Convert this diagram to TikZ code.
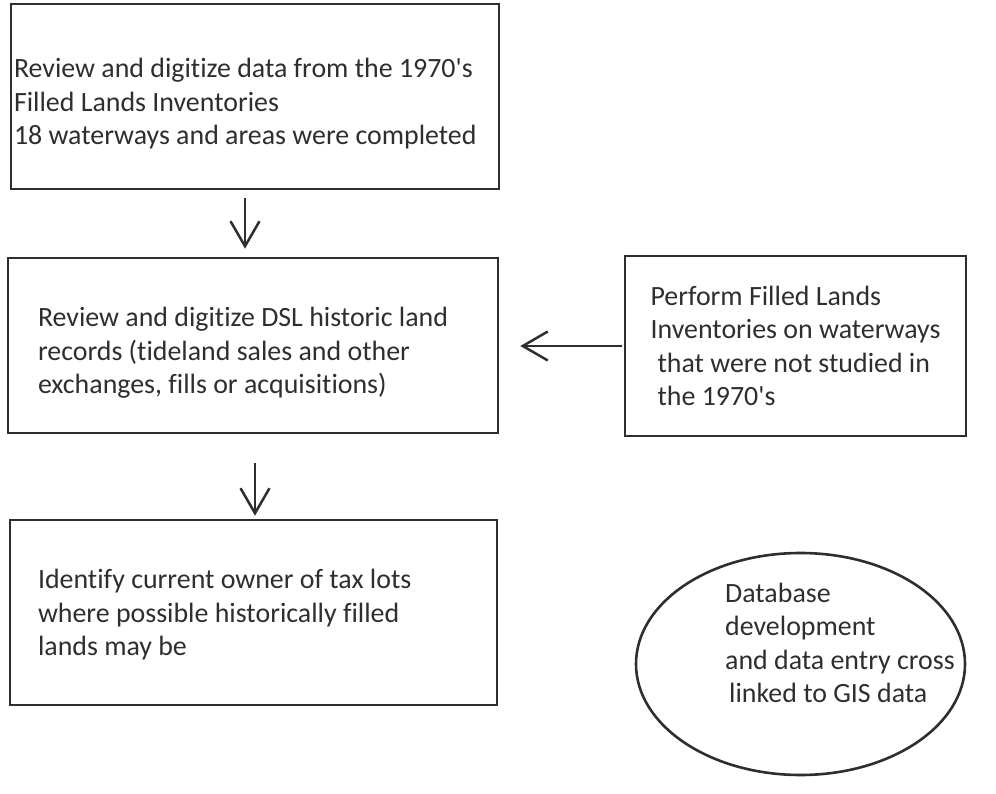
\documentclass[tikz,border=0pt]{standalone}
\usepackage{fontspec}
\setmainfont{Carlito}[Ligatures=NoCommon]
\usetikzlibrary{arrows.meta,shapes.geometric}
\definecolor{ink}{HTML}{2E2E2E}
\tikzset{
  stepbox/.style={draw=ink,line width=2.6pt,rectangle,inner ysep=0pt,align=flush left,text=ink},
  flow/.style={draw=ink,line width=2.5pt,-{Straight Barb[length=25pt,width=29pt,line width=2.5pt]}},
}
\begin{document}
\begin{tikzpicture}[x=1pt,y=-1pt,font=\fontsize{27.9}{33.5}\selectfont]
	\useasboundingbox (0,0) rectangle (996,794);
	\node[stepbox,minimum width=488pt,minimum height=185pt,inner xsep=3pt,text width=482pt,text height=34pt] (inventory) at (255,96.5) {Review and digitize data from the 1970\textquotesingle s\\Filled Lands Inventories\\18 waterways and areas were completed};
	\node[stepbox,minimum width=490pt,minimum height=175pt,inner xsep=30pt,text width=430pt,text height=34pt] (records) at (253,345.5) {Review and digitize DSL historic land\\records (tideland sales and other\\exchanges, fills or acquisitions)};
	\node[stepbox,align=left,minimum width=341pt,minimum height=180pt,inner xsep=0pt] (newinv) at (795.5,346) {Perform Filled Lands\\Inventories on waterways\\\hspace*{7pt}that were not studied in\\\hspace*{7pt}the 1970\textquotesingle s};
	\node[stepbox,minimum width=487pt,minimum height=185pt,inner xsep=28pt,text width=431pt,text height=24pt] (owners) at (253.5,612.5) {Identify current owner of tax lots\\where possible historically filled\\lands may be};
	\node[draw=ink,line width=2.6pt,ellipse,minimum width=329pt,minimum height=222pt] (db) at (800.5,664) {};
	\node[align=left,text=ink,anchor=west,inner sep=0pt] (dbtext) at (725,643) {Database\\development\\and data entry cross\\\hspace*{4pt}linked to GIS data};
	\draw[flow,shorten <=8pt,shorten >=8pt] ([xshift=-10pt]inventory.south) -- ([xshift=-8pt]records.north);
	\draw[flow,shorten <=2pt,shorten >=21pt] (newinv.west) -- (newinv.west -| records.east);
	\draw[flow,shorten <=29pt,shorten >=3pt] ([xshift=2pt]records.south) -- ([xshift=1.5pt]owners.north);
\end{tikzpicture}
\end{document}
